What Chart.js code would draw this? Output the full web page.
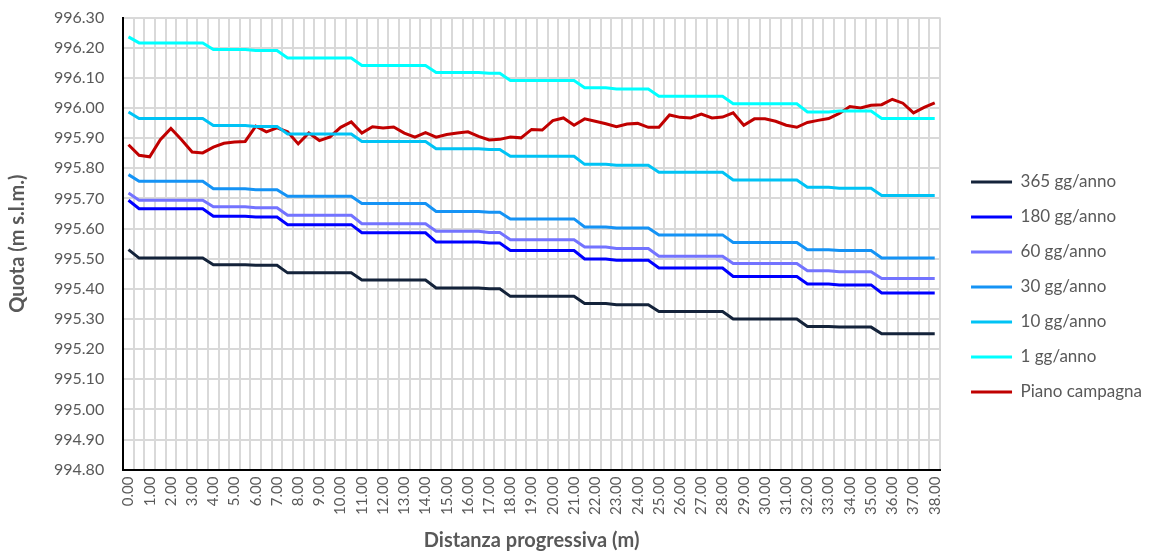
<!DOCTYPE html>
<html>
<head>
<meta charset="utf-8">
<title>Quota falda - Piano campagna</title>
<script src="https://cdn.jsdelivr.net/npm/chart.js@4.4.0/dist/chart.umd.min.js"></script>
<style>
  html, body { margin: 0; padding: 0; background: #ffffff; }
  #wrap { width: 1156px; height: 555px; }
</style>
</head>
<body>
<div id="wrap"><canvas id="grafico" width="1156" height="555"></canvas></div>
<script>
// Distanza progressiva lungo la sezione (m)
const distanze = [
  0.0, 0.5, 1.0, 1.5, 2.0, 2.5, 3.0, 3.5, 4.0, 4.5, 5.0, 5.5, 6.0, 6.5, 7.0, 7.5,
  8.0, 8.5, 9.0, 9.5, 10.0, 10.5, 11.0, 11.5, 12.0, 12.5, 13.0, 13.5, 14.0, 14.5,
  15.0, 15.5, 16.0, 16.5, 17.0, 17.5, 18.0, 18.5, 19.0, 19.5, 20.0, 20.5, 21.0,
  21.5, 22.0, 22.5, 23.0, 23.5, 24.0, 24.5, 25.0, 25.5, 26.0, 26.5, 27.0, 27.5,
  28.0, 28.5, 29.0, 29.5, 30.0, 30.5, 31.0, 31.5, 32.0, 32.5, 33.0, 33.5, 34.0,
  34.5, 35.0, 35.5, 36.0, 36.5, 37.0, 37.5, 38.0
];

// Quote della falda (m s.l.m.) per frequenza di superamento
const falda365 = [
  995.530,
  995.502, 995.502, 995.502, 995.502, 995.502, 995.502, 995.502,
  995.480, 995.480, 995.480, 995.480, 995.478, 995.478, 995.478,
  995.453, 995.453, 995.453, 995.453, 995.453, 995.453, 995.453,
  995.429, 995.429, 995.429, 995.429, 995.429, 995.429, 995.429,
  995.403, 995.403, 995.403, 995.403, 995.403, 995.400, 995.400,
  995.375, 995.375, 995.375, 995.375, 995.375, 995.375, 995.375,
  995.351, 995.351, 995.351, 995.347, 995.347, 995.347, 995.347,
  995.325, 995.325, 995.325, 995.325, 995.325, 995.325, 995.325,
  995.300, 995.300, 995.300, 995.300, 995.300, 995.300, 995.300,
  995.275, 995.275, 995.275, 995.273, 995.273, 995.273, 995.273,
  995.251, 995.251, 995.251, 995.251, 995.251, 995.251
];
const falda180 = [
  995.694,
  995.666, 995.666, 995.666, 995.666, 995.666, 995.666, 995.666,
  995.641, 995.641, 995.641, 995.641, 995.638, 995.638, 995.638,
  995.613, 995.613, 995.613, 995.613, 995.613, 995.613, 995.613,
  995.586, 995.586, 995.586, 995.586, 995.586, 995.586, 995.586,
  995.555, 995.555, 995.555, 995.555, 995.555, 995.552, 995.552,
  995.527, 995.527, 995.527, 995.527, 995.527, 995.527, 995.527,
  995.499, 995.499, 995.499, 995.495, 995.495, 995.495, 995.495,
  995.469, 995.469, 995.469, 995.469, 995.469, 995.469, 995.469,
  995.441, 995.441, 995.441, 995.441, 995.441, 995.441, 995.441,
  995.416, 995.416, 995.416, 995.413, 995.413, 995.413, 995.413,
  995.386, 995.386, 995.386, 995.386, 995.386, 995.386
];
const falda60 = [
  995.718,
  995.694, 995.694, 995.694, 995.694, 995.694, 995.694, 995.694,
  995.672, 995.672, 995.672, 995.672, 995.669, 995.669, 995.669,
  995.644, 995.644, 995.644, 995.644, 995.644, 995.644, 995.644,
  995.616, 995.616, 995.616, 995.616, 995.616, 995.616, 995.616,
  995.591, 995.591, 995.591, 995.591, 995.591, 995.587, 995.587,
  995.563, 995.563, 995.563, 995.563, 995.563, 995.563, 995.563,
  995.539, 995.539, 995.539, 995.534, 995.534, 995.534, 995.534,
  995.508, 995.508, 995.508, 995.508, 995.508, 995.508, 995.508,
  995.484, 995.484, 995.484, 995.484, 995.484, 995.484, 995.484,
  995.460, 995.460, 995.460, 995.457, 995.457, 995.457, 995.457,
  995.434, 995.434, 995.434, 995.434, 995.434, 995.434
];
const falda30 = [
  995.779,
  995.757, 995.757, 995.757, 995.757, 995.757, 995.757, 995.757,
  995.732, 995.732, 995.732, 995.732, 995.729, 995.729, 995.729,
  995.707, 995.707, 995.707, 995.707, 995.707, 995.707, 995.707,
  995.683, 995.683, 995.683, 995.683, 995.683, 995.683, 995.683,
  995.657, 995.657, 995.657, 995.657, 995.657, 995.654, 995.654,
  995.632, 995.632, 995.632, 995.632, 995.632, 995.632, 995.632,
  995.605, 995.605, 995.605, 995.602, 995.602, 995.602, 995.602,
  995.579, 995.579, 995.579, 995.579, 995.579, 995.579, 995.579,
  995.554, 995.554, 995.554, 995.554, 995.554, 995.554, 995.554,
  995.530, 995.530, 995.530, 995.527, 995.527, 995.527, 995.527,
  995.502, 995.502, 995.502, 995.502, 995.502, 995.502
];
const falda10 = [
  995.987,
  995.965, 995.965, 995.965, 995.965, 995.965, 995.965, 995.965,
  995.942, 995.942, 995.942, 995.942, 995.939, 995.939, 995.939,
  995.914, 995.914, 995.914, 995.914, 995.914, 995.914, 995.914,
  995.889, 995.889, 995.889, 995.889, 995.889, 995.889, 995.889,
  995.865, 995.865, 995.865, 995.865, 995.865, 995.862, 995.862,
  995.840, 995.840, 995.840, 995.840, 995.840, 995.840, 995.840,
  995.813, 995.813, 995.813, 995.810, 995.810, 995.810, 995.810,
  995.787, 995.787, 995.787, 995.787, 995.787, 995.787, 995.787,
  995.761, 995.761, 995.761, 995.761, 995.761, 995.761, 995.761,
  995.737, 995.737, 995.737, 995.734, 995.734, 995.734, 995.734,
  995.710, 995.710, 995.710, 995.710, 995.710, 995.710
];
const falda1 = [
  996.236,
  996.216, 996.216, 996.216, 996.216, 996.216, 996.216, 996.216,
  996.194, 996.194, 996.194, 996.194, 996.191, 996.191, 996.191,
  996.166, 996.166, 996.166, 996.166, 996.166, 996.166, 996.166,
  996.141, 996.141, 996.141, 996.141, 996.141, 996.141, 996.141,
  996.118, 996.118, 996.118, 996.118, 996.118, 996.115, 996.115,
  996.091, 996.091, 996.091, 996.091, 996.091, 996.091, 996.091,
  996.067, 996.067, 996.067, 996.063, 996.063, 996.063, 996.063,
  996.039, 996.039, 996.039, 996.039, 996.039, 996.039, 996.039,
  996.014, 996.014, 996.014, 996.014, 996.014, 996.014, 996.014,
  995.987, 995.987, 995.987, 995.990, 995.990, 995.990, 995.990,
  995.965, 995.965, 995.965, 995.965, 995.965, 995.965
];

// Quota del piano campagna (m s.l.m.)
const pianoCampagna = [
  995.878, 995.843, 995.838, 995.895, 995.932, 995.895, 995.854, 995.851,
  995.870, 995.883, 995.887, 995.889, 995.940, 995.921, 995.934, 995.921,
  995.881, 995.917, 995.892, 995.904, 995.936, 995.954, 995.917, 995.938,
  995.934, 995.937, 995.917, 995.903, 995.918, 995.903, 995.912, 995.917,
  995.921, 995.906, 995.894, 995.896, 995.904, 995.901, 995.929, 995.927,
  995.958, 995.967, 995.943, 995.964, 995.956, 995.948, 995.938, 995.947,
  995.949, 995.936, 995.936, 995.977, 995.969, 995.967, 995.980, 995.967,
  995.970, 995.984, 995.943, 995.964, 995.964, 995.956, 995.943, 995.936,
  995.952, 995.959, 995.965, 995.982, 996.005, 996.000, 996.009, 996.011,
  996.029, 996.016, 995.984, 996.002, 996.017
];

const nomiSerie = ['365 gg/anno', '180 gg/anno', '60 gg/anno', '30 gg/anno', '10 gg/anno', '1 gg/anno', 'Piano campagna'];
const valoriSerie = [falda365, falda180, falda60, falda30, falda10, falda1, pianoCampagna];
const coloriSerie = ['#14233a', '#0000ff', '#7373ff', '#1593f5', '#00c3f5', '#00ffff', '#c00000'];

// Asse Y: limiti e passo delle etichette
const quotaMin = 994.80;
const quotaMax = 996.30;
const quotaPasso = 0.10;

const grigioTesto = '#595959';
const grigioGriglia = '#d9d9d9';
const famiglia = 'Lato, "Open Sans", sans-serif';

// Sposta la legenda più a destra e leggermente in basso rispetto all'area del grafico
const spostaLegenda = {
  id: 'spostaLegenda',
  afterLayout(chart) {
    const l = chart.legend;
    if (!l) return;
    l.left += 13; l.right += 13;
    l.top += 8; l.bottom += 8;
  }
};

const datasets = nomiSerie.map((nome, k) => ({
  label: nome,
  data: valoriSerie[k],
  borderColor: coloriSerie[k],
  backgroundColor: coloriSerie[k],
  borderWidth: 3,
  pointRadius: 0,
  pointHoverRadius: 0,
  tension: 0,
  fill: false
}));

new Chart(document.getElementById('grafico'), {
  type: 'line',
  data: {
    labels: distanze.map(d => d.toFixed(2)),
    datasets: datasets
  },
  plugins: [spostaLegenda],
  options: {
    responsive: false,
    animation: false,
    devicePixelRatio: 1,
    layout: { padding: { top: 5, right: 17, bottom: 2, left: 6 } },
    plugins: {
      tooltip: { enabled: false },
      legend: {
        position: 'right',
        labels: {
          usePointStyle: true,
          pointStyle: 'line',
          pointStyleWidth: 41,
          boxHeight: 17,
          padding: 18,
          color: grigioTesto,
          font: { family: famiglia, size: 17 }
        }
      }
    },
    scales: {
      x: {
        type: 'category',
        offset: true,
        grid: { offset: true, color: grigioGriglia, lineWidth: 2, drawTicks: false },
        border: { color: '#000000', width: 2 },
        ticks: {
          autoSkip: false,
          minRotation: 90,
          maxRotation: 90,
          padding: 7,
          color: grigioTesto,
          font: { family: famiglia, size: 15 },
          callback: function (v, i) { return i % 2 === 0 ? this.getLabelForValue(v) : ''; }
        },
        title: {
          display: true,
          text: 'Distanza progressiva (m)',
          color: grigioTesto,
          font: { family: famiglia, size: 20, weight: 'bold' },
          padding: { top: 7, bottom: 0 }
        }
      },
      y: {
        min: quotaMin,
        max: quotaMax,
        grid: {
          color: grigioGriglia,
          lineWidth: 2,
          drawTicks: true,
          tickLength: 11,
          tickColor: 'rgba(0,0,0,0)'
        },
        border: { color: '#000000', width: 2 },
        ticks: {
          stepSize: quotaPasso,
          padding: 8,
          color: grigioTesto,
          font: { family: famiglia, size: 16 },
          callback: v => Number(v).toFixed(2)
        },
        title: {
          display: true,
          text: 'Quota (m s.l.m.)',
          color: grigioTesto,
          font: { family: famiglia, size: 20, weight: 'bold' },
          padding: { top: 0, bottom: 16 }
        }
      }
    }
  }
});
</script>
</body>
</html>
